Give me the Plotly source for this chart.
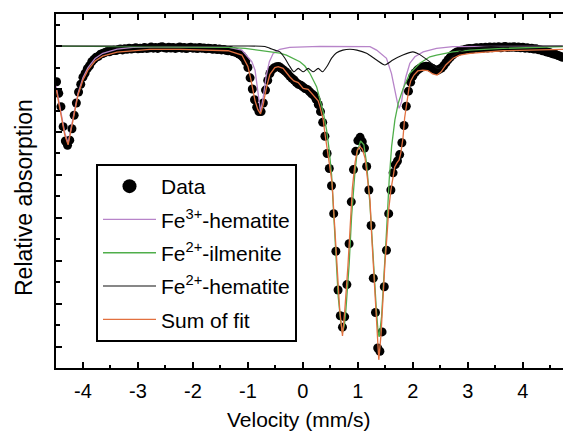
import plotly.graph_objects as go

# ---------------- data ----------------
velocity = [
    -4.48, -4.44, -4.40, -4.36, -4.32, -4.28, -4.24, -4.20, -4.16, -4.12,
    -4.08, -4.04, -4.00, -3.96, -3.92, -3.88, -3.84, -3.80, -3.76, -3.72,
    -3.68, -3.64, -3.60, -3.56, -3.52, -3.48, -3.44, -3.40, -3.36, -3.32,
    -3.28, -3.24, -3.20, -3.16, -3.12, -3.08, -3.04, -3.00, -2.96, -2.92,
    -2.88, -2.84, -2.80, -2.76, -2.72, -2.68, -2.64, -2.60, -2.56, -2.52,
    -2.48, -2.44, -2.40, -2.36, -2.32, -2.28, -2.24, -2.20, -2.16, -2.12,
    -2.08, -2.04, -2.00, -1.96, -1.92, -1.88, -1.84, -1.80, -1.76, -1.72,
    -1.68, -1.64, -1.60, -1.56, -1.52, -1.48, -1.44, -1.40, -1.36, -1.32,
    -1.28, -1.24, -1.20, -1.16, -1.12, -1.08, -1.04, -1.00, -0.96, -0.92,
    -0.88, -0.84, -0.80, -0.76, -0.72, -0.68, -0.64, -0.60, -0.56, -0.52,
    -0.48, -0.44, -0.40, -0.36, -0.32, -0.28, -0.24, -0.20, -0.16, -0.12,
    -0.08, -0.04, 0.00, 0.04, 0.08, 0.12, 0.16, 0.20, 0.24, 0.28,
    0.32, 0.36, 0.40, 0.44, 0.48, 0.52, 0.56, 0.60, 0.64, 0.68,
    0.72, 0.76, 0.80, 0.84, 0.88, 0.92, 0.96, 1.00, 1.04, 1.08,
    1.12, 1.16, 1.20, 1.24, 1.28, 1.32, 1.36, 1.40, 1.44, 1.48,
    1.52, 1.56, 1.60, 1.64, 1.68, 1.72, 1.76, 1.80, 1.84, 1.88,
    1.92, 1.96, 2.00, 2.04, 2.08, 2.12, 2.16, 2.20, 2.24, 2.28,
    2.32, 2.36, 2.40, 2.44, 2.48, 2.52, 2.56, 2.60, 2.64, 2.68,
    2.72, 2.76, 2.80, 2.84, 2.88, 2.92, 2.96, 3.00, 3.04, 3.08,
    3.12, 3.16, 3.20, 3.24, 3.28, 3.32, 3.36, 3.40, 3.44, 3.48,
    3.52, 3.56, 3.60, 3.64, 3.68, 3.72, 3.76, 3.80, 3.84, 3.88,
    3.92, 3.96, 4.00, 4.04, 4.08, 4.12, 4.16, 4.20, 4.24, 4.28,
    4.32, 4.36, 4.40, 4.44, 4.48, 4.52, 4.56, 4.60, 4.64, 4.68,
    4.72,
]
transmission = [
    98.34, 97.80, 97.18, 96.25, 95.58, 95.38, 95.62, 96.15, 96.78, 97.35,
    97.86, 98.22, 98.55, 98.74, 98.95, 99.08, 99.27, 99.38, 99.48, 99.52,
    99.62, 99.65, 99.70, 99.74, 99.73, 99.78, 99.80, 99.79, 99.83, 99.86,
    99.82, 99.87, 99.85, 99.90, 99.86, 99.88, 99.92, 99.87, 99.90, 99.88,
    99.93, 99.89, 99.91, 99.95, 99.90, 99.93, 99.89, 99.94, 99.97, 99.92,
    99.90, 99.94, 99.91, 99.93, 99.89, 99.92, 99.95, 99.90, 99.93, 99.88,
    99.92, 99.94, 99.90, 99.92, 99.88, 99.93, 99.90, 99.91, 99.87, 99.90,
    99.88, 99.85, 99.88, 99.84, 99.86, 99.82, 99.84, 99.80, 99.78, 99.79,
    99.74, 99.72, 99.68, 99.63, 99.56, 99.45, 99.28, 99.00, 98.52, 98.00,
    97.50, 97.15, 96.95, 96.95, 97.35, 97.95, 98.40, 98.72, 98.90, 98.99,
    99.03, 99.05, 98.98, 98.90, 98.82, 98.72, 98.60, 98.50, 98.42, 98.30,
    98.22, 98.18, 98.10, 98.02, 97.98, 97.88, 97.78, 97.70, 97.52, 97.28,
    96.95, 96.45, 95.80, 95.00, 94.30, 93.50, 92.20, 90.45, 88.65, 87.45,
    86.92, 87.40, 88.90, 90.80, 92.75, 94.25, 95.10, 95.60, 95.75, 95.55,
    95.25, 94.40, 93.30, 91.65, 89.20, 87.60, 85.95, 85.80, 86.70, 88.80,
    90.50, 92.20, 93.30, 94.10, 94.48, 94.65, 94.95, 95.50, 96.30, 97.20,
    97.90, 98.32, 98.60, 98.76, 98.88, 98.95, 99.02, 99.04, 99.06, 99.05,
    99.00, 98.95, 98.90, 98.86, 98.92, 98.98, 99.08, 99.22, 99.36, 99.48,
    99.58, 99.66, 99.72, 99.76, 99.80, 99.82, 99.85, 99.87, 99.89, 99.86,
    99.90, 99.92, 99.88, 99.93, 99.90, 99.94, 99.91, 99.95, 99.92, 99.96,
    99.93, 99.97, 99.92, 99.95, 99.98, 99.93, 99.96, 99.94, 99.97, 99.93,
    99.95, 99.92, 99.94, 99.90, 99.92, 99.89, 99.90, 99.86, 99.87, 99.83,
    99.82, 99.78, 99.76, 99.72, 99.70, 99.66, 99.63, 99.60, 99.56, 99.52,
    99.48,
]

sum_v = [-4.49, -4.38, -4.33, -4.27, -4.21, -4.15, -4.09, -4.00, -3.91, -3.78,
         -3.64, -3.38, -3.09, -2.78, -2.24, -1.36, -1.11, -1.00, -0.95, -0.91,
         -0.87, -0.82, -0.77, -0.72, -0.67, -0.60, -0.51, -0.45, -0.36, -0.24,
         -0.164, -0.085, 0.005, 0.096, 0.187, 0.278, 0.31, 0.37, 0.40, 0.43,
         0.48, 0.53, 0.56, 0.60, 0.64, 0.67, 0.72, 0.76, 0.82, 0.86,
         0.90, 0.95, 0.99, 1.04, 1.08, 1.13, 1.17, 1.22, 1.25, 1.29,
         1.33, 1.35, 1.38, 1.42, 1.45, 1.49, 1.53, 1.56, 1.60, 1.64,
         1.67, 1.71, 1.75, 1.78, 1.82, 1.85, 1.89, 1.93, 1.96, 2.02,
         2.09, 2.18, 2.27, 2.36, 2.44, 2.51, 2.60, 2.73, 2.85, 3.04,
         3.31, 3.64, 4.13, 4.73]
sum_t = [98.05, 96.65, 95.86, 95.40, 96.19, 97.02, 97.72, 98.42, 98.88, 99.30,
         99.53, 99.72, 99.79, 99.84, 99.84, 99.78, 99.58, 99.05, 98.50, 98.00,
         97.45, 97.05, 96.84, 97.30, 98.00, 98.68, 99.00, 99.04, 98.96, 98.57,
         98.38, 98.30, 98.03, 97.98, 97.70, 97.45, 97.18, 96.56, 95.94, 95.32,
         94.54, 93.63, 92.37, 90.74, 89.12, 87.72, 86.51, 87.63, 89.81, 91.91,
         93.40, 94.60, 95.16, 95.32, 95.21, 94.79, 94.00, 92.84, 91.21, 89.35,
         87.49, 86.33, 85.40, 86.56, 88.19, 89.81, 91.21, 92.37, 93.30, 94.00,
         94.37, 94.56, 94.70, 95.02, 95.72, 96.65, 97.49, 98.05, 98.37, 98.65,
         98.84, 98.88, 98.86, 98.70, 98.65, 98.79, 99.12, 99.43, 99.58, 99.66,
         99.72, 99.78, 99.81, 99.84]

ilm_v = [-4.49, -2.78, -1.36, -1.05, -0.78, -0.60, -0.42, -0.30, -0.115, -0.055,
         0.036, 0.127, 0.249, 0.309, 0.369, 0.431, 0.478, 0.522, 0.555, 0.582,
         0.613, 0.642, 0.685, 0.718, 0.755, 0.782, 0.842, 0.885, 0.945, 0.987,
         1.049, 1.109, 1.158, 1.218, 1.267, 1.30, 1.336, 1.369, 1.387, 1.431,
         1.473, 1.522, 1.569, 1.613, 1.673, 1.733, 1.824, 1.945, 2.127, 2.309,
         2.431, 2.727, 3.036, 3.636, 4.727]
ilm_t = [100.0, 99.97, 99.94, 99.89, 99.80, 99.73, 99.67, 99.58, 99.37, 99.27,
         99.07, 98.73, 98.11, 97.58, 96.93, 96.09, 95.16, 94.00, 92.60, 90.98,
         89.58, 88.34, 87.26, 86.67, 87.02, 87.72, 89.89, 92.06, 94.08, 95.08,
         95.58, 95.40, 94.54, 92.68, 90.67, 89.12, 87.72, 86.65, 86.47, 87.41,
         89.12, 91.44, 93.77, 95.32, 96.56, 97.33, 98.03, 98.73, 99.20, 99.50,
         99.58, 99.73, 99.81, 99.89, 99.97]

hem3_v = [-4.49, -4.38, -4.33, -4.27, -4.21, -4.15, -4.09, -4.00, -3.91, -3.78,
          -3.64, -3.38, -3.09, -2.50, -1.80, -1.36, -1.11, -0.93, -0.87, -0.81,
          -0.77, -0.72, -0.67, -0.61, -0.54, -0.42, -0.24, 0.31, 0.86, 1.22,
          1.34, 1.52, 1.61, 1.67, 1.715, 1.75, 1.795, 1.824, 1.873, 1.945,
          2.036, 2.187, 2.431, 2.727, 4.727]
hem3_t = [98.15, 96.75, 95.95, 95.48, 96.28, 97.10, 97.80, 98.52, 98.98, 99.42,
          99.66, 99.86, 99.94, 99.97, 99.97, 99.95, 99.81, 99.28, 98.88, 97.64,
          96.94, 97.64, 98.57, 99.27, 99.66, 99.85, 99.94, 99.98, 99.97, 99.97,
          99.81, 99.43, 98.73, 97.95, 97.41, 97.10, 97.41, 97.95, 98.57, 99.20,
          99.50, 99.73, 99.89, 99.97, 100.0]

hem2_v = [-4.49, -1.145, -0.691, -0.60, -0.509, -0.418, -0.327, -0.236, -0.164, -0.085,
          0.005, 0.096, 0.187, 0.278, 0.358, 0.442, 0.522, 0.613, 0.727, 0.855,
          0.982, 1.158, 1.34, 1.491, 1.636, 1.818, 2.0, 2.127, 2.309, 2.455,
          2.60, 2.727, 2.891, 3.127, 3.582, 4.727]
hem2_t = [100.0, 100.0, 99.98, 99.89, 99.81, 99.73, 99.43, 99.04, 98.80, 98.96,
          98.80, 98.96, 98.80, 98.96, 98.80, 99.07, 99.44, 99.69, 99.81, 99.85,
          99.81, 99.66, 99.35, 99.12, 99.35, 99.58, 99.73, 99.60, 99.26, 98.95,
          99.16, 99.53, 99.79, 99.93, 99.99, 100.0]

x_tick_values = [-4, -3, -2, -1, 0, 1, 2, 3, 4]
x_tick_labels = ["-4", "-3", "-2", "-1", "0", "1", "2", "3", "4"]
series_names = ["Data", "Fe<sup>3+</sup>-hematite", "Fe<sup>2+</sup>-ilmenite",
                "Fe<sup>2+</sup>-hematite", "Sum of fit"]

# ---------------- styling ----------------
FONT = "Liberation Sans, Arial, Helvetica, sans-serif"
C_PURPLE = "#b784c9"
C_GREEN = "#4fae4a"
C_BLACK = "#111111"
C_ORANGE = "#e2703f"

fig = go.Figure()
fig.add_trace(go.Scatter(x=velocity, y=transmission, mode="markers",
                         marker=dict(color="black", size=9), showlegend=False,
                         hoverinfo="skip"))
fig.add_trace(go.Scatter(x=hem3_v, y=hem3_t, mode="lines", name=series_names[1],
                         line=dict(color=C_PURPLE, width=1.3), legendrank=2,
                         legendgroup="b"))
fig.add_trace(go.Scatter(x=ilm_v, y=ilm_t, mode="lines", name=series_names[2],
                         line=dict(color=C_GREEN, width=1.3), legendrank=3,
                         legendgroup="c"))
fig.add_trace(go.Scatter(x=hem2_v, y=hem2_t, mode="lines", name=series_names[3],
                         line=dict(color=C_BLACK, width=1.1, shape="spline", smoothing=0.6),
                         legendrank=4, legendgroup="d"))
fig.add_trace(go.Scatter(x=sum_v, y=sum_t, mode="lines", name=series_names[4],
                         line=dict(color=C_ORANGE, width=1.3), legendrank=5,
                         legendgroup="e"))
# legend entry for the data points (larger symbol in the legend)
fig.add_trace(go.Scatter(x=[None], y=[None], mode="markers", name=series_names[0],
                         marker=dict(color="black", size=14), legendrank=1,
                         legendgroup="a"))

axis_common = dict(showgrid=False, zeroline=False, showline=True, linecolor="black",
                   linewidth=2, ticks="inside", tickcolor="black", tickwidth=2,
                   ticklen=6)

fig.update_layout(
    width=563, height=431,
    margin=dict(l=56, r=0, t=14, b=63),
    paper_bgcolor="white", plot_bgcolor="white",
    font=dict(family=FONT, color="black", size=20),
    xaxis=dict(range=[-4.49, 4.73], tickmode="array", tickvals=x_tick_values,
               ticktext=x_tick_labels, mirror="ticks", ticklabelstandoff=4,
               tickfont=dict(size=20, family=FONT),
               minor=dict(ticks="inside", ticklen=3.5, tickwidth=2, tickcolor="black",
                          dtick=0.5, tick0=0),
               **axis_common),
    yaxis=dict(range=[85.02, 101.49], tickmode="array",
               tickvals=[86, 88, 90, 92, 94, 96, 98, 100], showticklabels=False,
               minor=dict(ticks="inside", ticklen=3.5, tickwidth=2, tickcolor="black",
                          dtick=1, tick0=0),
               **axis_common),
    legend=dict(x=(96 - 56) / 507, y=(368 - 164) / 354, xanchor="left", yanchor="top",
                bgcolor="white", bordercolor="black", borderwidth=2,
                font=dict(size=21, family=FONT), itemwidth=53,
                tracegroupgap=3, traceorder="grouped"),
    annotations=[
        dict(text="Velocity (mm/s)", xref="paper", yref="paper",
             x=(299 - 56) / 507, y=(368 - 419) / 354, xanchor="center", yanchor="middle",
             showarrow=False, font=dict(size=21, family=FONT)),
        dict(text="Relative absorption", xref="paper", yref="paper",
             x=(24 - 56) / 507, y=(368 - 198) / 354, xanchor="center", yanchor="middle",
             textangle=-90, showarrow=False, font=dict(size=23, family=FONT)),
    ],
)

fig.write_html("out.html", config={"displayModeBar": False},
               post_script="document.body.style.margin='0';")
